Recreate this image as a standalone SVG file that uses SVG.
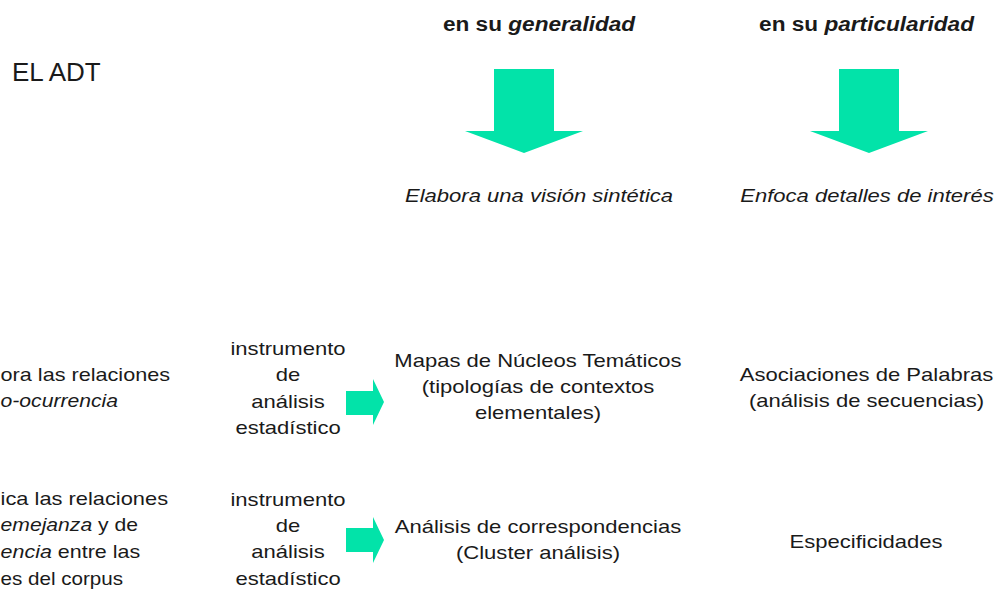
<svg xmlns="http://www.w3.org/2000/svg" width="999" height="592" viewBox="0 0 999 592">
<style>
text{font-family:"Liberation Sans",Arial,sans-serif;fill:#1a1a1a;font-size:19px}
.c{text-anchor:middle}
.b{font-weight:bold;font-size:19.5px}
.i{font-style:italic}
.arrow{fill:#02E3A9}
</style>
<rect width="999" height="592" fill="#ffffff"/>
<g id="title"><text x="12" y="81" style="font-size:26px">EL ADT</text></g>
<g id="connectors">
<polygon class="arrow" points="494,69 554,69 554,131 583,131 524,153 465,131 494,131"/>
<polygon class="arrow" points="839,69 899,69 899,131 928,131 869,153 810,131 839,131"/>
<polygon class="arrow" points="346,391 373,391 373,379 384,402 373,425 373,415 346,415"/>
<polygon class="arrow" points="346,528 373,528 373,517 384,540 373,563 373,552 346,552"/>
</g>
<g transform="scale(1.16 1)">
<g id="head-general"><text class="c b" x="464.7" y="31">en su <tspan class="i">generalidad</tspan></text></g>
<g id="head-particular"><text class="c b" x="747" y="31">en su <tspan class="i">particularidad</tspan></text></g>
<g id="vision"><text class="c i" x="464.7" y="202">Elabora una visión sintética</text></g>
<g id="detalles"><text class="c i" x="747.4" y="202">Enfoca detalles de interés</text></g>
<g id="explora">
<text x="0.5" y="381" textLength="146.1" lengthAdjust="spacingAndGlyphs">ora las relaciones</text>
<text class="i" x="0.5" y="407" textLength="101.3" lengthAdjust="spacingAndGlyphs">o-ocurrencia</text>
</g>
<g id="instrumento1">
<text class="c" x="248.3" y="355">instrumento</text>
<text class="c" x="248.3" y="381">de</text>
<text class="c" x="248.3" y="408">análisis</text>
<text class="c" x="248.3" y="434">estadístico</text>
</g>
<g id="mapas">
<text class="c" x="463.8" y="367">Mapas de Núcleos Temáticos</text>
<text class="c" x="463.8" y="393">(tipologías de contextos</text>
<text class="c" x="463.8" y="419">elementales)</text>
</g>
<g id="asociaciones">
<text class="c" x="747" y="381">Asociaciones de Palabras</text>
<text class="c" x="747" y="407">(análisis de secuencias)</text>
</g>
<g id="identifica">
<text x="0.5" y="505" textLength="144.4" lengthAdjust="spacingAndGlyphs">ica las relaciones</text>
<text x="0.5" y="531" textLength="118.5" lengthAdjust="spacingAndGlyphs"><tspan class="i">emejanza</tspan> y de</text>
<text x="0.5" y="558" textLength="120.3" lengthAdjust="spacingAndGlyphs"><tspan class="i">encia</tspan> entre las</text>
<text x="0.5" y="585" textLength="105.6" lengthAdjust="spacingAndGlyphs">es del corpus</text>
</g>
<g id="instrumento2">
<text class="c" x="248.3" y="506">instrumento</text>
<text class="c" x="248.3" y="532">de</text>
<text class="c" x="248.3" y="558">análisis</text>
<text class="c" x="248.3" y="585">estadístico</text>
</g>
<g id="correspondencias">
<text class="c" x="463.8" y="533">Análisis de correspondencias</text>
<text class="c" x="463.8" y="559">(Cluster análisis)</text>
</g>
<g id="especificidades"><text class="c" x="746.6" y="548">Especificidades</text></g>
</g>
</svg>
